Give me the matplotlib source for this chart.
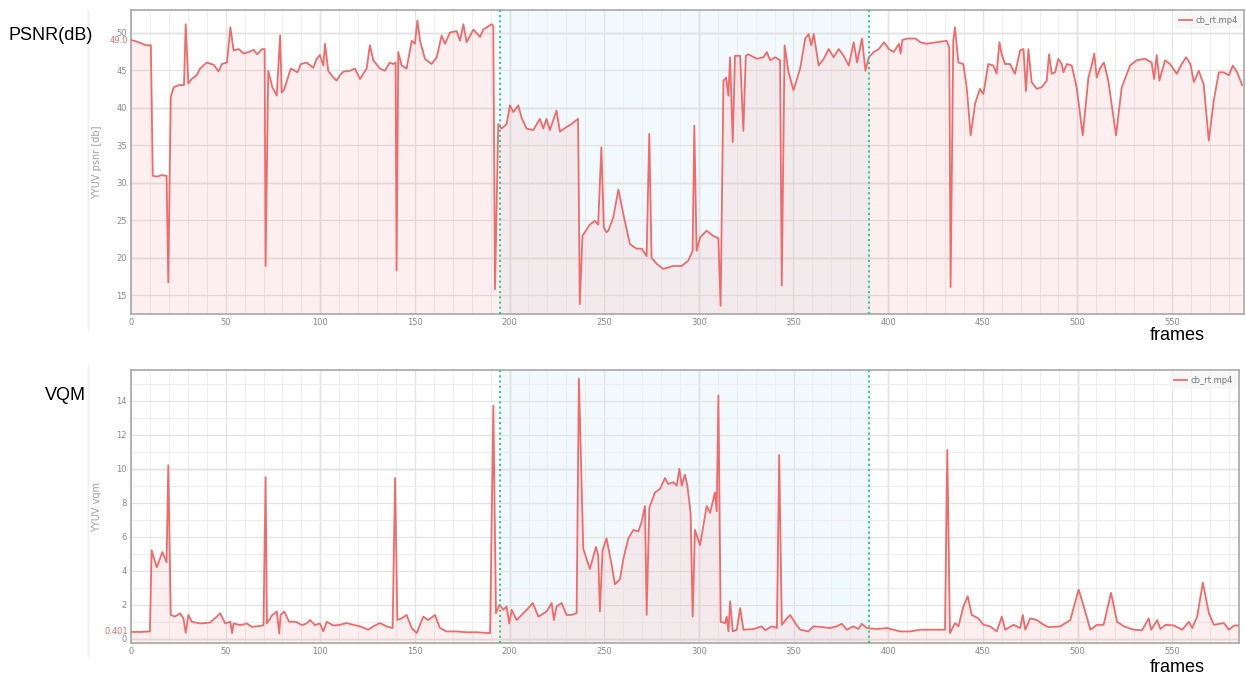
import matplotlib
matplotlib.use("Agg")
import matplotlib.pyplot as plt
from matplotlib.ticker import MultipleLocator
from matplotlib.lines import Line2D

# ---------------- data ----------------
psnr_frames = [0, 3, 6, 8, 10.5, 11.5, 14, 16, 18.8, 19.7, 21, 22.5, 25.4, 28, 28.9, 30.3, 32, 34.7,
               36.5, 40, 43.7, 46.3, 48, 50.7, 52.5, 54.2, 56.9, 59.5, 62.2, 64.8, 66.6, 69.3, 70.6,
               71.1, 72.5, 74.7, 77, 78.8, 79.6, 80.9, 84.4, 88, 89.7, 92.8, 96.3, 98.1, 99.8, 101.6,
               102.5, 104.2, 106.9, 108.6, 110.4, 112.2, 115.6, 118.3, 121, 124.5, 126.2, 128, 131.5,
               134.1, 136.7, 138.5, 139.8, 140.3, 141.2, 143, 145.6, 148.3, 150, 151.3, 152.7, 155.3,
               158.8, 161.5, 164.1, 165.9, 168.5, 172, 173.8, 175.6, 177.3, 180.9, 184.4, 186.1, 190.5,
               191.4, 192.3, 194, 195.8, 198.4, 200.2, 202, 204.6, 206.3, 209, 212.5, 216, 217.8, 219.5,
               221.3, 224.8, 226.6, 230, 232.7, 236.2, 237.1, 238.5, 242.4, 245, 246.8, 248.5, 249.8,
               251.2, 252.2, 254.8, 257.5, 260.1, 263.6, 267.1, 269.8, 272.4, 273.8, 275, 277.7, 281.2,
               286.5, 290.9, 294.4, 296.7, 297.6, 298.8, 300.6, 304.1, 307.6, 310.3, 311.5, 313, 314.4,
               315.6, 316.5, 317.9, 319.1, 321.8, 323.5, 324.8, 326.2, 330.6, 334.1, 335.9, 337.7, 340.3,
               342.9, 343.8, 345.3, 347.4, 350, 353.5, 356.2, 358, 359.4, 360.7, 363.3, 366, 368.6, 371.2,
               373.9, 376.5, 379.2, 381.8, 383.6, 386.2, 388, 389.8, 392.4, 395.1, 397.8, 400.4, 403,
               405.7, 406.6, 407.5, 410.1, 414.5, 417, 420.3, 425.6, 430.9, 432.3, 433, 434.4, 435.3,
               437.1, 439.7, 441.5, 443.6, 445.9, 448.5, 450.3, 452.9, 455.6, 457.3, 458.8, 460, 461.8,
               464.4, 467, 469.7, 471.5, 472.8, 474.1, 475.8, 478.5, 481.1, 483.8, 485, 486.4, 488.2,
               489.9, 491.7, 492.6, 494.4, 497, 499.6, 502.8, 505.8, 507.5, 508.9, 510.2, 511.9, 514,
               516.3, 520.4, 523.4, 527.8, 531.3, 535.7, 539.2, 540.5, 541.9, 543.3, 546.3, 548.9, 552.5,
               555.1, 557.4, 559.7, 561.5, 564.1, 566.7, 569.4, 572, 574.7, 577.3, 580, 582.1, 584.4, 587]
psnr_values = [49.0, 48.8, 48.5, 48.3, 48.3, 30.9, 30.8, 31.0, 30.9, 16.7, 41.4, 42.7, 43.0, 43.0, 51.1,
               43.2, 43.8, 44.3, 45.2, 46.0, 45.7, 44.8, 45.8, 46.0, 50.7, 47.6, 47.8, 47.2, 47.4, 47.7,
               47.1, 47.8, 47.8, 18.9, 44.9, 42.7, 41.6, 49.6, 42.0, 42.4, 45.2, 44.7, 45.8, 46.0, 45.3,
               46.5, 47.0, 45.6, 48.5, 44.9, 44.0, 43.6, 44.3, 44.8, 44.9, 45.2, 43.8, 45.2, 48.3, 46.3,
               45.2, 44.9, 46.0, 45.8, 46.0, 18.3, 47.4, 45.6, 45.2, 48.9, 48.5, 51.6, 48.9, 46.5, 45.8,
               46.7, 49.6, 48.5, 50.0, 50.2, 48.9, 51.1, 48.7, 50.4, 49.4, 50.4, 51.1, 50.9, 15.8, 37.8,
               37.2, 37.8, 40.3, 39.4, 40.3, 38.7, 37.2, 37.0, 38.5, 37.2, 38.5, 37.0, 39.6, 36.8, 37.4,
               37.8, 38.5, 13.8, 22.9, 24.4, 24.9, 24.4, 34.7, 24.0, 23.4, 23.6, 25.4, 29.1, 25.8, 21.8,
               21.2, 21.2, 20.2, 36.5, 20.0, 19.2, 18.5, 18.9, 18.9, 19.6, 20.9, 37.6, 20.9, 22.7, 23.6,
               22.9, 22.6, 13.6, 43.6, 44.0, 41.6, 46.7, 35.4, 46.9, 46.9, 36.9, 46.9, 47.1, 46.5, 46.7,
               47.4, 46.3, 46.7, 46.3, 16.3, 48.3, 44.7, 42.3, 45.2, 49.2, 49.8, 48.3, 49.8, 45.6, 46.5,
               47.8, 46.7, 47.8, 46.9, 45.6, 48.7, 46.0, 49.2, 44.9, 46.7, 47.4, 47.8, 48.7, 47.8, 47.4,
               48.5, 47.2, 49.0, 49.2, 49.2, 48.7, 48.5, 48.7, 48.9, 48.0, 16.1, 48.9, 50.7, 46.0, 45.8,
               42.7, 36.3, 40.5, 42.5, 41.8, 45.8, 45.6, 44.5, 48.7, 47.1, 45.8, 45.8, 44.5, 47.6, 47.8,
               42.2, 47.8, 43.4, 42.5, 42.7, 43.6, 47.1, 44.5, 44.7, 46.5, 45.8, 44.7, 45.8, 45.6, 42.7,
               36.3, 44.0, 45.6, 47.2, 44.0, 45.2, 46.0, 43.6, 36.3, 42.7, 45.6, 46.3, 46.5, 46.0, 43.8,
               47.0, 43.6, 46.3, 45.8, 44.5, 45.8, 46.7, 45.8, 43.4, 44.9, 43.1, 35.6, 40.9, 44.7, 44.7,
               44.3, 45.6, 44.7, 43.0]

vqm_frames = [0, 5, 10, 10.9, 13.6, 16.6, 18.8, 19.7, 21, 23.2, 25.9, 27.7, 28.9, 30.3, 32.1, 36.5, 41.8,
              45.3, 47.1, 49.8, 52.5, 53.4, 54.2, 57.8, 61.2, 63.8, 68.2, 70, 71.1, 71.8, 74.7, 77, 78.3,
              79, 80.9, 83.5, 87, 90.4, 92.8, 94.6, 97.2, 99.8, 101.6, 103.4, 106.9, 110.4, 113.9, 117.4,
              121, 125.4, 128, 131.5, 135, 138.2, 139.5, 140.7, 143, 145.6, 148.3, 150.9, 154.4, 157,
              160.6, 163.2, 166.7, 172, 177.3, 182.6, 189.7, 191.4, 192.8, 194.6, 196.7, 198.4, 199.8,
              201.1, 203.7, 207.2, 209.9, 212.2, 215.2, 219.5, 222.2, 223.4, 224.8, 227.5, 230.1, 232.7,
              235.4, 236.6, 238.9, 242.4, 245.6, 246.8, 247.7, 249.1, 251.2, 254, 255.6, 258.3, 260.1,
              262.7, 265.4, 268, 269.8, 271.5, 272.4, 273.8, 276.8, 279.4, 282.1, 283.8, 286.5, 288.3,
              289.7, 290.9, 292.6, 293.9, 295.6, 296.7, 297.9, 300.6, 304.1, 305.9, 308.5, 309.4, 310.3,
              311.5, 313.8, 314.7, 315.6, 316.5, 317.9, 320, 321.8, 323.5, 328.8, 333.2, 335, 338.5,
              341.2, 342.4, 343.8, 346.5, 348.2, 350.9, 353.5, 357.9, 360.5, 364, 369.3, 372.8, 375.5,
              378.1, 381.6, 384.3, 386, 388.7, 394, 399.3, 402.8, 406.3, 411.6, 416.8, 423.8, 430, 431.2,
              432.6, 435.3, 437.1, 439.7, 442, 444.1, 447.6, 450.3, 453.8, 457.3, 460, 461.8, 466.2,
              469.7, 471.1, 472.4, 475, 478.5, 482.1, 484.7, 490.9, 496.2, 500.6, 503.3, 506.8, 510.3,
              513.8, 517.7, 520.9, 524.4, 529.7, 534.1, 537.6, 538.9, 542.1, 543.8, 546.5, 550.9, 555.3,
              558.8, 560.6, 563.2, 566.2, 569.4, 572, 577.3, 580, 582.7, 585.3]
vqm_values = [0.40, 0.40, 0.43, 5.2, 4.2, 5.1, 4.5, 10.2, 1.4, 1.3, 1.5, 1.2, 0.35, 1.4, 1.0, 0.9, 0.95,
              1.3, 1.5, 0.9, 1.0, 0.33, 0.9, 0.8, 0.9, 0.7, 0.75, 0.8, 9.5, 0.9, 1.4, 1.6, 0.3, 1.4, 1.6,
              1.0, 1.0, 0.8, 0.9, 1.1, 0.8, 0.9, 0.43, 1.0, 0.78, 0.82, 0.92, 0.82, 0.73, 0.53, 0.73,
              0.92, 0.73, 0.63, 9.45, 1.1, 1.2, 1.4, 0.63, 0.33, 1.3, 1.1, 1.4, 0.63, 0.43, 0.43, 0.38,
              0.38, 0.33, 13.7, 1.5, 2.0, 1.7, 1.9, 0.9, 1.7, 1.1, 1.5, 1.8, 2.1, 1.3, 1.6, 2.1, 1.1, 1.9,
              2.1, 1.4, 1.4, 1.5, 15.3, 5.3, 4.1, 5.4, 4.9, 1.6, 5.2, 5.9, 4.3, 3.2, 3.5, 4.7, 5.9, 6.4,
              6.3, 6.9, 7.8, 1.4, 7.7, 8.6, 8.8, 9.45, 9.1, 9.2, 9.0, 10.0, 9.0, 9.65, 9.0, 7.4, 1.3, 6.4,
              5.5, 7.8, 7.4, 8.6, 7.5, 14.3, 1.0, 0.92, 1.3, 0.43, 2.2, 0.43, 0.53, 1.8, 0.53, 0.57, 0.73,
              0.5, 0.73, 0.63, 10.8, 0.82, 1.2, 1.4, 0.92, 0.53, 0.43, 0.73, 0.7, 0.63, 0.73, 0.88, 0.53,
              0.73, 0.57, 0.88, 0.63, 0.57, 0.63, 0.53, 0.43, 0.43, 0.53, 0.53, 0.53, 11.1, 0.33, 0.92,
              0.73, 1.9, 2.5, 1.4, 1.2, 0.82, 0.73, 0.43, 1.3, 0.53, 0.82, 0.63, 1.4, 0.53, 1.2, 1.1,
              0.82, 0.68, 0.73, 1.1, 2.9, 1.9, 0.53, 0.82, 0.82, 2.7, 1.0, 0.73, 0.53, 0.5, 1.2, 0.53,
              1.1, 0.57, 0.82, 0.78, 0.53, 1.0, 0.63, 1.3, 3.3, 1.5, 0.82, 0.92, 0.53, 0.78, 0.78]

band_start = 195
band_end = 390
series_name = "cb_rt.mp4"
psnr_first_label = "49.0"
vqm_first_label = "0.401"

# ---------------- style ----------------
LINE = "#f26a6a"
GREEN = "#2fcf8a"
BAND = "#f2f9fc"
W, H = 1246, 679
fig = plt.figure(figsize=(W / 100, H / 100), dpi=100)
fig.patch.set_facecolor("white")


def px_axes(x0, y0, x1, y1):
    return fig.add_axes([x0 / W, 1 - y1 / H, (x1 - x0) / W, (y1 - y0) / H])


def style(ax, xmax, ylim, ymaj, ymin_step, ylabel, dark_y):
    ax.set_xlim(0, xmax)
    ax.set_ylim(*ylim)
    ax.xaxis.set_major_locator(MultipleLocator(50))
    ax.xaxis.set_minor_locator(MultipleLocator(10))
    ax.yaxis.set_major_locator(MultipleLocator(ymaj))
    ax.yaxis.set_minor_locator(MultipleLocator(ymin_step))
    ax.grid(which="minor", color="#eeeeee", lw=0.8, zorder=1)
    ax.grid(which="major", color="#e3e3e3", lw=0.9, zorder=1)
    for v in range(100, int(xmax) + 1, 100):
        ax.axvline(v, color="#d2d2d2", lw=1.0, zorder=1)
    for v in dark_y:
        ax.axhline(v, color="#d2d2d2", lw=1.0, zorder=1)
    ax.tick_params(which="both", length=0, labelsize=6, labelcolor="#8a8a8a", pad=3)
    for s in ax.spines.values():
        s.set_color("#a8a8a8")
        s.set_linewidth(1.2)
    ax.set_ylabel(ylabel, fontsize=7, color="#a0a0a0")
    ax.yaxis.set_label_coords(-0.026, 0.5)
    ax.axvspan(band_start, band_end, color=BAND, zorder=0, lw=0)
    for v in (band_start, band_end):
        ax.axvline(v, color=GREEN, lw=1.5, ls=(0, (1, 1.5)), zorder=5)


def add_legend(ax):
    leg = ax.legend(loc="upper right", fontsize=6, handlelength=1.6, handletextpad=0.4,
                    borderaxespad=0.2, frameon=True, fancybox=False, borderpad=0.5)
    leg.get_frame().set_facecolor("#f5f5f5")
    leg.get_frame().set_edgecolor("none")
    for t in leg.get_texts():
        t.set_color("#777777")


# top panel
ax1 = px_axes(131, 10, 1244, 314)
style(ax1, 588, (12.5, 53), 5, 5, "YYUV psnr [db]", [20, 30, 40, 50])
ax1.fill_between(psnr_frames, psnr_values, 12.5, color=LINE, alpha=0.1, lw=0, zorder=2)
ax1.plot(psnr_frames, psnr_values, color=LINE, lw=1.3, zorder=4, label=series_name)
ax1.text(-0.003, psnr_values[0], psnr_first_label, transform=ax1.get_yaxis_transform(),
         ha="right", va="center", fontsize=6, color=LINE)
add_legend(ax1)

# bottom panel
ax2 = px_axes(131, 370, 1239, 643)
style(ax2, 585.3, (-0.25, 15.8), 2, 1, "YYUV vqm", [0, 10])
ax2.fill_between(vqm_frames, vqm_values, -0.25, color=LINE, alpha=0.1, lw=0, zorder=2)
ax2.plot(vqm_frames, vqm_values, color=LINE, lw=1.3, zorder=4, label=series_name)
ax2.text(-0.003, vqm_values[0], vqm_first_label, transform=ax2.get_yaxis_transform(),
         ha="right", va="center", fontsize=6, color=LINE)
add_legend(ax2)

# faint screenshot edges
for y0, y1 in ((10, 330), (365, 656)):
    fig.add_artist(Line2D([88 / W, 88 / W], [1 - y0 / H, 1 - y1 / H], color="#eeeeee", lw=1))

# figure-level labels
fkw = dict(fontsize=13, color="black", family=["Liberation Sans", "DejaVu Sans"])
fig.text(8 / W, 1 - 35 / H, "PSNR(dB)", ha="left", va="center", **fkw)
fig.text(45 / W, 1 - 395 / H, "VQM", ha="left", va="center", **fkw)
fig.text(1177 / W, 1 - 335 / H, "frames", ha="center", va="center", **fkw)
fig.text(1177 / W, 1 - 667 / H, "frames", ha="center", va="center", **fkw)

fig.savefig("out.png", dpi=100)
